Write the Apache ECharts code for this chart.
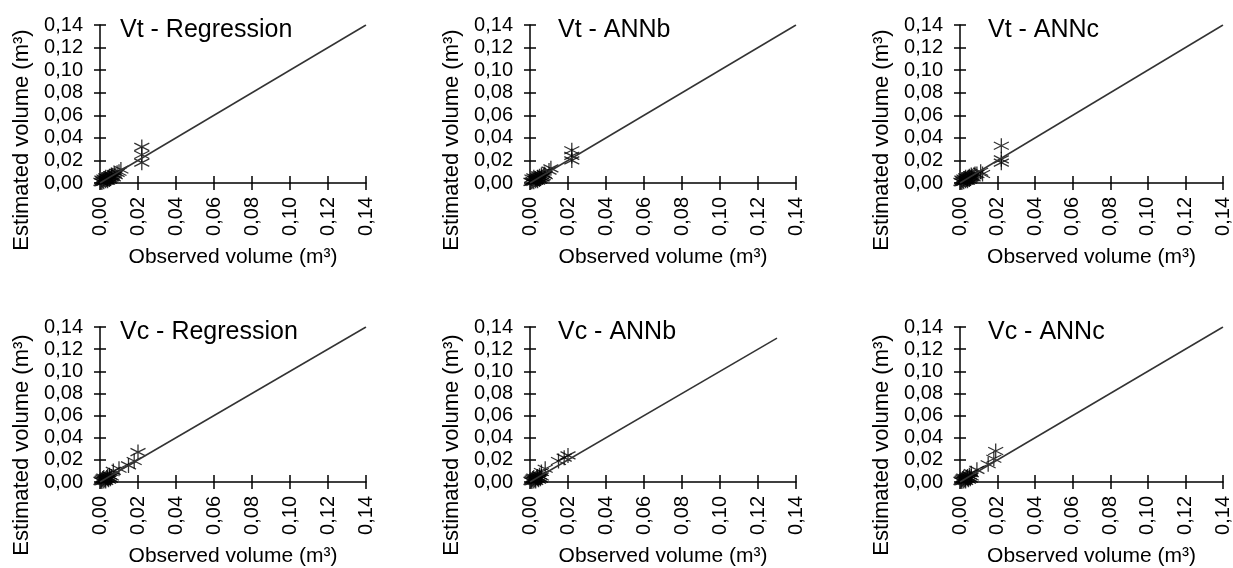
<!DOCTYPE html>
<html>
<head>
<meta charset="utf-8">
<script src="https://cdn.jsdelivr.net/npm/echarts@6/dist/echarts.min.js"></script>
<style>
  html, body { margin: 0; padding: 0; background: #fff; }
  #chart { width: 1233px; height: 568px; }
</style>
</head>
<body>
<div id="chart"></div>
<script>
// observed vs estimated volume (m³)
const vtRegression = [
  [0.0005, 0.001], [0.001, 0.003], [0.001, 0.0005], [0.0015, 0.002], [0.002, 0.004],
  [0.002, 0.001], [0.0025, 0.003], [0.003, 0.002], [0.003, 0.005], [0.0035, 0.003],
  [0.004, 0.004], [0.004, 0.002], [0.0045, 0.005], [0.005, 0.003], [0.005, 0.006],
  [0.0055, 0.004], [0.006, 0.005], [0.006, 0.007], [0.0065, 0.006], [0.007, 0.005],
  [0.0075, 0.008], [0.008, 0.007], [0.009, 0.009], [0.010, 0.010], [0.011, 0.012],
  [0.022, 0.032], [0.022, 0.025], [0.022, 0.018]
]
const vtAnnb = [
  [0.0005, 0.001], [0.001, 0.004], [0.001, 0.001], [0.0015, 0.002], [0.002, 0.005],
  [0.002, 0.001], [0.0025, 0.003], [0.003, 0.002], [0.003, 0.004], [0.0035, 0.003],
  [0.004, 0.005], [0.004, 0.002], [0.0045, 0.004], [0.005, 0.003], [0.005, 0.006],
  [0.0055, 0.004], [0.006, 0.005], [0.006, 0.007], [0.0065, 0.005], [0.007, 0.006],
  [0.0075, 0.008], [0.008, 0.007], [0.010, 0.011], [0.011, 0.013],
  [0.022, 0.029], [0.022, 0.024], [0.022, 0.020]
]
const vtAnnc = [
  [0.0005, 0.001], [0.001, 0.003], [0.001, 0.0005], [0.0015, 0.002], [0.002, 0.004],
  [0.002, 0.001], [0.0025, 0.003], [0.003, 0.002], [0.003, 0.005], [0.0035, 0.003],
  [0.004, 0.004], [0.004, 0.002], [0.0045, 0.005], [0.005, 0.003], [0.005, 0.006],
  [0.0055, 0.004], [0.006, 0.005], [0.006, 0.007], [0.0065, 0.006], [0.007, 0.005],
  [0.0075, 0.007], [0.008, 0.008], [0.009, 0.008], [0.011, 0.010], [0.012, 0.008],
  [0.022, 0.033], [0.022, 0.021], [0.022, 0.018]
]
const vcRegression = [
  [0.0005, 0.001], [0.001, 0.002], [0.001, 0.0005], [0.0015, 0.003], [0.002, 0.001],
  [0.002, 0.004], [0.0025, 0.002], [0.003, 0.003], [0.003, 0.001], [0.0035, 0.004],
  [0.004, 0.003], [0.004, 0.005], [0.0045, 0.002], [0.005, 0.004], [0.005, 0.006],
  [0.0055, 0.003], [0.006, 0.005],
  [0.007, 0.010], [0.010, 0.012], [0.015, 0.015], [0.018, 0.019], [0.020, 0.027]
]
const vcAnnb = [
  [0.0005, 0.001], [0.001, 0.002], [0.001, 0.0005], [0.0015, 0.003], [0.002, 0.001],
  [0.002, 0.004], [0.0025, 0.002], [0.003, 0.003], [0.003, 0.001], [0.0035, 0.004],
  [0.004, 0.003], [0.004, 0.005], [0.0045, 0.002], [0.005, 0.004], [0.005, 0.006],
  [0.0055, 0.003], [0.006, 0.005],
  [0.006, 0.009], [0.008, 0.012], [0.015, 0.019], [0.018, 0.022], [0.020, 0.024]
]
const vcAnnc = [
  [0.0005, 0.001], [0.001, 0.002], [0.001, 0.0005], [0.0015, 0.003], [0.002, 0.001],
  [0.002, 0.004], [0.0025, 0.002], [0.003, 0.003], [0.003, 0.001], [0.0035, 0.004],
  [0.004, 0.003], [0.004, 0.005], [0.0045, 0.002], [0.005, 0.004], [0.005, 0.006],
  [0.0055, 0.003], [0.006, 0.005],
  [0.006, 0.008], [0.009, 0.011], [0.015, 0.016], [0.018, 0.021], [0.019, 0.028]
]

const panelTitles = ['Vt - Regression', 'Vt - ANNb', 'Vt - ANNc', 'Vc - Regression', 'Vc - ANNb', 'Vc - ANNc']
const panelData = [vtRegression, vtAnnb, vtAnnc, vcRegression, vcAnnb, vcAnnc]
// end of the 1:1 line in each panel
const lineEnds = [0.14, 0.14, 0.14, 0.14, 0.13, 0.14]

const xAxisName = 'Observed volume (m³)'
const yAxisName = 'Estimated volume (m³)'
const axisMin = 0
const axisMax = 0.14
const axisStep = 0.02

const FONT = '"Liberation Sans", Arial, sans-serif'
const STAR = 'path://M0,-10L0,10M-8.66,-5L8.66,5M-8.66,5L8.66,-5'

const colLeft = [100, 530, 960]
const rowTop = [25, 327]
const rowHeight = [158, 161]
const plotWidth = 266

const fmt = (v) => v.toFixed(2).replace('.', ',')

const grid = []
const xAxis = []
const yAxis = []
const series = []
const title = []
const graphic = []

panelData.forEach((pts, i) => {
  const col = i % 3
  const row = Math.floor(i / 3)
  grid.push({ left: colLeft[col], top: rowTop[row], width: plotWidth, height: rowHeight[row] })

  const scale = { type: 'value', min: axisMin, max: axisMax, interval: axisStep, gridIndex: i, splitLine: { show: false } }
  // main axes: line, outside ticks, labels
  xAxis.push({
    ...scale,
    position: 'bottom',
    axisLine: { onZero: false, lineStyle: { color: '#000', width: 1.5 } },
    axisTick: { length: 7, lineStyle: { color: '#000', width: 1.5 } },
    axisLabel: { rotate: 90, margin: 14, fontSize: 20, color: '#000', fontFamily: FONT, formatter: fmt },
    name: xAxisName,
    nameLocation: 'middle',
    nameGap: 64,
    nameTextStyle: { fontSize: 21, color: '#000', fontFamily: FONT }
  })
  yAxis.push({
    ...scale,
    position: 'left',
    axisLine: { onZero: false, lineStyle: { color: '#000', width: 1.5 } },
    axisTick: { length: 6, lineStyle: { color: '#000', width: 1.5 } },
    axisLabel: { margin: 17, fontSize: 20, color: '#000', fontFamily: FONT, formatter: fmt }
  })
  // inner halves of the crossing ticks
  xAxis.push({
    ...scale,
    position: 'bottom',
    axisLine: { show: false, onZero: false },
    axisTick: { inside: true, length: 7, lineStyle: { color: '#000', width: 1.5 } },
    axisLabel: { show: false }
  })
  yAxis.push({
    ...scale,
    position: 'left',
    axisLine: { show: false, onZero: false },
    axisTick: { inside: true, length: 6, lineStyle: { color: '#000', width: 1.5 } },
    axisLabel: { show: false }
  })

  series.push({
    type: 'line',
    xAxisIndex: i * 2,
    yAxisIndex: i * 2,
    data: [[0, 0], [lineEnds[i], lineEnds[i]]],
    symbol: 'none',
    lineStyle: { color: '#333', width: 1.5 },
    silent: true
  })
  series.push({
    type: 'scatter',
    xAxisIndex: i * 2,
    yAxisIndex: i * 2,
    data: pts,
    symbol: STAR,
    symbolSize: 15,
    itemStyle: { color: 'none', borderColor: '#000', borderWidth: 1.3 }
  })

  title.push({
    text: panelTitles[i],
    left: colLeft[col] + (col === 0 ? 20 : 28),
    top: rowTop[row] - 7,
    padding: 0,
    textStyle: { fontSize: 25, fontWeight: 'normal', color: '#000', fontFamily: FONT }
  })
  graphic.push({
    type: 'text',
    x: colLeft[col] - 78,
    y: [140, 445][row],
    rotation: Math.PI / 2,
    style: {
      text: yAxisName,
      fontSize: 22,
      fontFamily: FONT,
      fill: '#000',
      align: 'center',
      verticalAlign: 'middle'
    }
  })
})

const chart = echarts.init(document.getElementById('chart'))
chart.setOption({
  animation: false,
  title,
  grid,
  xAxis,
  yAxis,
  series,
  graphic
})
</script>
</body>
</html>
